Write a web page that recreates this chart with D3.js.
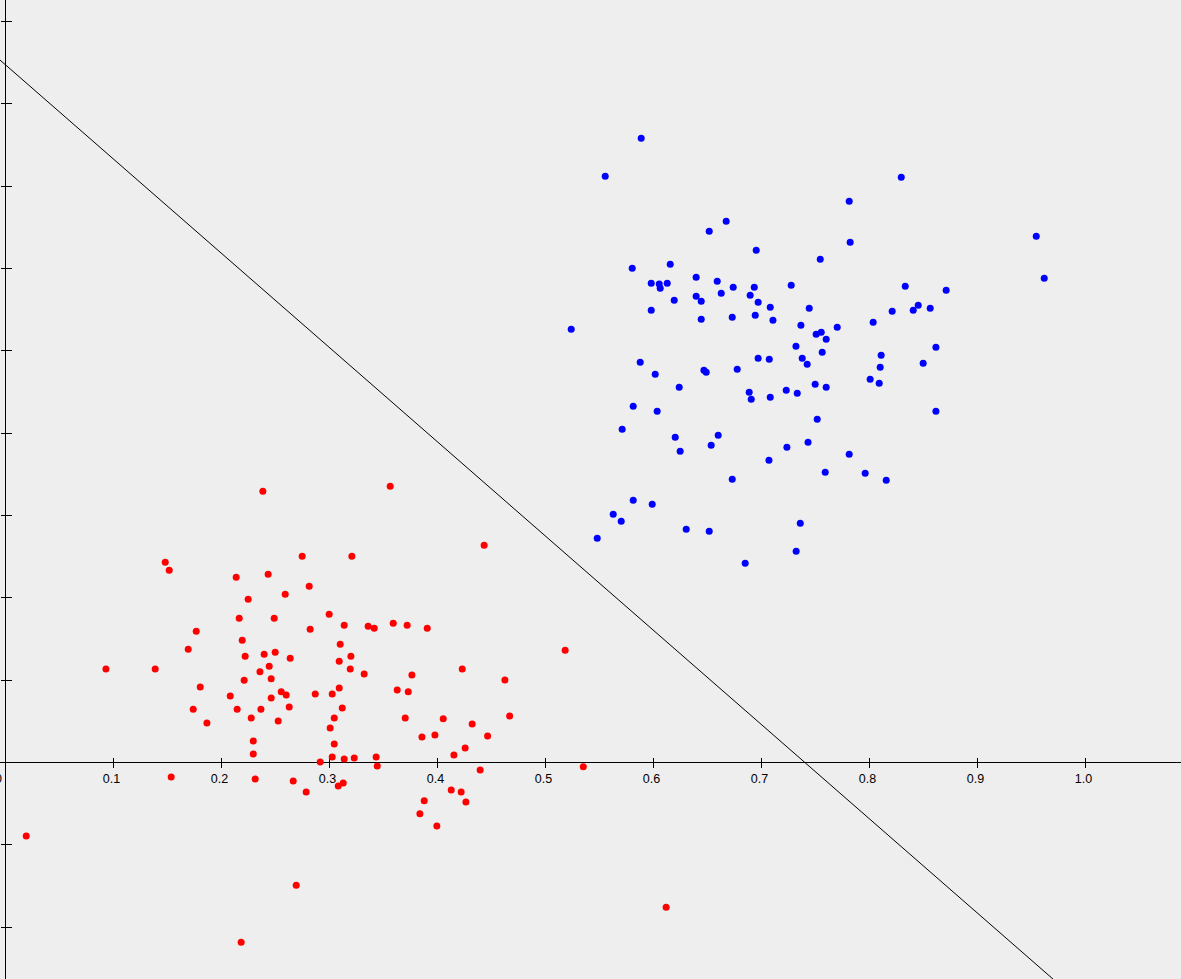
<!DOCTYPE html>
<html>
<head>
<meta charset="utf-8">
<script src="https://cdn.jsdelivr.net/npm/d3@7"></script>
<style>
  html, body { margin: 0; padding: 0; background: #eeeeee; overflow: hidden; }
  svg { display: block; }
</style>
</head>
<body>
<script>
// ---- data ----
const redX = [0.2383,0.1479,0.1516,0.2136,0.2432,0.2747,0.3207,0.2812,0.2590,0.2247,
  0.2164,0.2488,0.2997,0.3136,0.2821,0.1766,0.1692,0.2192,0.3099,0.2219,
  0.2395,0.2497,0.2636,0.3090,0.3198,0.2442,0.3562,0.4432,0.3358,0.3414,
  0.3590,0.3719,0.3905,0.5182,0.0930,0.1386,0.1803,0.1738,0.1865,0.2081,
  0.2145,0.2210,0.2356,0.2460,0.2460,0.2553,0.2599,0.2627,0.2365,0.2275,
  0.2525,0.2294,0.2294,0.2868,0.3025,0.3090,0.3118,0.3044,0.3006,0.3044,
  0.3025,0.3136,0.2914,0.1534,0.2312,0.2664,0.2784,0.3081,0.3127,0.3192,
  0.3321,0.3763,0.4229,0.4624,0.3627,0.3729,0.3701,0.4053,0.4668,0.4321,
  0.3856,0.3976,0.4464,0.4256,0.4152,0.3229,0.3432,0.3442,0.4395,0.5350,
  0.4127,0.4219,0.3877,0.4263,0.3837,0.3994,0.0192,0.2692,0.2182,0.6117];
const redY = [0.3296,0.2433,0.2336,0.2251,0.2287,0.2506,0.2506,0.2142,0.2044,0.1984,
  0.1753,0.1753,0.1801,0.1668,0.1619,0.1595,0.1376,0.1486,0.1437,0.1291,
  0.1316,0.1340,0.1267,0.1231,0.1291,0.1170,0.3356,0.2640,0.1656,0.1631,
  0.1692,0.1668,0.1631,0.1364,0.1137,0.1137,0.0918,0.0647,0.0481,0.0809,
  0.0647,0.1000,0.1101,0.1016,0.0785,0.0858,0.0821,0.0675,0.0647,0.0542,
  0.0505,0.0262,0.0104,0.0833,0.0833,0.0906,0.0663,0.0542,0.0420,0.0226,
  0.0068,0.0044,0.0007,-0.0175,-0.0199,-0.0224,-0.0357,-0.0284,-0.0248,0.1137,
  0.1076,0.1064,0.1137,0.1003,0.0882,0.0858,0.0542,0.0530,0.0566,0.0469,
  0.0311,0.0335,0.0323,0.0177,0.0092,0.0056,0.0068,-0.0041,-0.0090,-0.0053,
  -0.0333,-0.0357,-0.0466,-0.0479,-0.0624,-0.0770,-0.0892,-0.1491,-0.2183,-0.1758];

const blueX = [0.5886,0.5553,0.6673,0.6516,0.6951,0.5803,0.6155,0.6395,0.6590,0.5979,
  0.6053,0.6127,0.6062,0.6738,0.6933,0.6627,0.6895,0.6395,0.6442,0.6192,
  0.6969,0.7081,0.5979,0.6442,0.6729,0.6942,0.7106,0.5238,0.6969,0.7072,
  0.5877,0.6016,0.6467,0.6488,0.6775,0.6238,0.6886,0.6905,0.7081,0.5812,
  0.6034,0.5710,0.6201,0.6599,0.6534,0.6247,0.7069,0.6729,0.5812,0.5988,
  0.5627,0.5701,0.6303,0.6516,0.5479,0.6849,0.7275,0.7229,0.7235,0.8294,
  0.7812,0.7821,0.7544,0.8331,0.8710,0.9544,0.9618,0.7442,0.8210,0.8405,
  0.8451,0.8562,0.8034,0.7365,0.7506,0.7553,0.7701,0.7599,0.7319,0.7562,
  0.8615,0.8108,0.7377,0.7423,0.8099,0.8497,0.8006,0.8090,0.7497,0.7599,
  0.7331,0.8615,0.7516,0.7431,0.7812,0.7590,0.7960,0.8155,0.7359,0.7321];
const blueY = [0.7584,0.7122,0.6576,0.6454,0.6223,0.6005,0.6053,0.5895,0.5847,0.5822,
  0.5814,0.5822,0.5762,0.5774,0.5774,0.5701,0.5677,0.5664,0.5604,0.5616,
  0.5592,0.5531,0.5494,0.5385,0.5409,0.5434,0.5373,0.5264,0.4911,0.4899,
  0.4863,0.4717,0.4766,0.4741,0.4778,0.4559,0.4498,0.4413,0.4438,0.4328,
  0.4267,0.4049,0.3952,0.3976,0.3854,0.3782,0.3672,0.3441,0.3186,0.3138,
  0.3016,0.2931,0.2834,0.2810,0.2725,0.2421,0.5798,0.4523,0.3830,0.7110,
  0.6819,0.6320,0.6114,0.5786,0.5737,0.6393,0.5883,0.5519,0.5482,0.5494,
  0.5555,0.5519,0.5349,0.5312,0.5203,0.5227,0.5288,0.5142,0.5057,0.4984,
  0.5045,0.4948,0.4911,0.4838,0.4802,0.4851,0.4656,0.4608,0.4595,0.4559,
  0.4486,0.4267,0.4170,0.3891,0.3745,0.3527,0.3514,0.3429,0.2907,0.2567];

const xTickValues = [0,0.1,0.2,0.3,0.4,0.5,0.6,0.7,0.8,0.9,1.0];
const xTickLabels = ["0","0.1","0.2","0.3","0.4","0.5","0.6","0.7","0.8","0.9","1.0"];
const yTickValues = [-0.2,-0.1,0.1,0.2,0.3,0.4,0.5,0.6,0.7,0.8,0.9];
// decision boundary: y = intercept + slope * x
const boundaryIntercept = [0.8475];
const boundarySlope = [-1.145];
const boundaryXRange = [-0.02, 1.1];

// ---- drawing ----
const W = 1181, H = 979;
const x = d3.scaleLinear().domain([0, 1]).range([5.5, 1085.5]);
const y = d3.scaleLinear().domain([0, 1]).range([762.5, -60.7]);

const svg = d3.select("body").append("svg")
  .attr("width", W).attr("height", H)
  .style("background", "#eeeeee");

svg.append("rect").attr("width", W).attr("height", H).attr("fill", "#eeeeee");

// axes lines through origin
const axes = svg.append("g").attr("stroke", "#000").attr("stroke-width", 1)
  .attr("shape-rendering", "crispEdges");
axes.append("line").attr("x1", 0).attr("x2", W).attr("y1", y(0)).attr("y2", y(0));
axes.append("line").attr("x1", x(0)).attr("x2", x(0)).attr("y1", 0).attr("y2", H);

// x ticks
axes.selectAll(".xt").data(xTickValues.filter(v => v !== 0)).enter().append("line")
  .attr("x1", d => x(d)).attr("x2", d => x(d))
  .attr("y1", y(0) - 5).attr("y2", y(0) + 5);
// y ticks
axes.selectAll(".yt").data(yTickValues).enter().append("line")
  .attr("x1", x(0) - 5).attr("x2", x(0) + 6)
  .attr("y1", d => y(d)).attr("y2", d => y(d));

// x tick labels
svg.append("g").selectAll("text").data(xTickValues).enter().append("text")
  .attr("x", d => x(d) + (d === 0 ? -7 : -2))
  .attr("y", y(0) + 20)
  .attr("text-anchor", "middle")
  .attr("font-family", "'Liberation Sans', Arial, sans-serif")
  .attr("font-size", 12.5)
  .attr("fill", "#000")
  .text((d, i) => xTickLabels[i]);

// boundary line
svg.append("line")
  .attr("x1", x(boundaryXRange[0]))
  .attr("y1", y(boundaryIntercept[0] + boundarySlope[0] * boundaryXRange[0]))
  .attr("x2", x(boundaryXRange[1]))
  .attr("y2", y(boundaryIntercept[0] + boundarySlope[0] * boundaryXRange[1]))
  .attr("stroke", "#000").attr("stroke-width", 1);

// points
const red = redX.map((v, i) => ({x: v, y: redY[i]}));
const blue = blueX.map((v, i) => ({x: v, y: blueY[i]}));
svg.append("g").selectAll("circle").data(red).enter().append("circle")
  .attr("cx", d => x(d.x)).attr("cy", d => y(d.y)).attr("r", 3.5).attr("fill", "#ff0000");
svg.append("g").selectAll("circle").data(blue).enter().append("circle")
  .attr("cx", d => x(d.x)).attr("cy", d => y(d.y)).attr("r", 3.5).attr("fill", "#0000ff");
</script>
</body>
</html>
